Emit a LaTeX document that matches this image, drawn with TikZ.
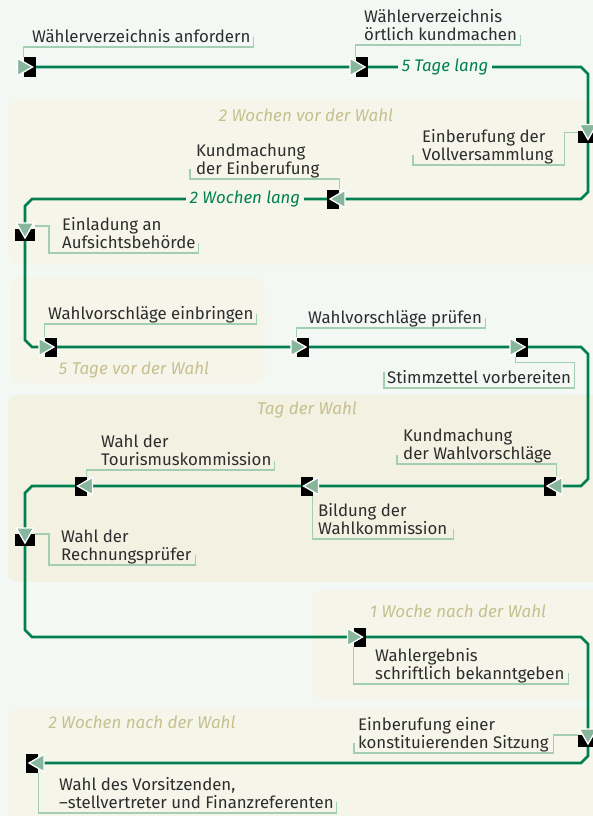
\documentclass[tikz,border=0pt]{standalone}
\usepackage{fontspec}
\setmainfont{Fira Sans}
\usetikzlibrary{shapes.geometric,backgrounds}

\definecolor{pagebg}{RGB}{244,248,245}
\definecolor{zonebg}{RGB}{246,245,234}
\definecolor{daybg}{RGB}{243,241,226}
\definecolor{flowgreen}{RGB}{0,128,82}
\definecolor{tricol}{RGB}{136,182,156}
\definecolor{brkcol}{RGB}{163,206,178}
\definecolor{khaki}{RGB}{198,192,143}
\definecolor{txtgrey}{RGB}{45,45,45}

\begin{document}
\begin{tikzpicture}[x=1pt, y=-1pt,
    every node/.style = {font=\fontsize{16.8}{18.5}\selectfont},
    blk/.style = {fill=black, inner sep=0pt, minimum width=12pt, minimum height=19pt},
    blkv/.style = {blk, minimum width=20pt, minimum height=12pt},
    tri/.style = {regular polygon, regular polygon sides=3, minimum size=20pt,
      inner sep=0pt, fill=tricol, draw=white, line width=1.3pt},
    lbl/.style = {align=left, inner xsep=3pt, inner ysep=0pt, text depth=4pt, text=txtgrey},
    brk/.style = {draw=brkcol, line width=1.1pt},
    flow/.style = {draw=flowgreen, line width=2.6pt},
    dur/.style = {font=\fontsize{16.8}{18.5}\selectfont\itshape, text=flowgreen, inner xsep=4pt},
    zone/.style = {font=\fontsize{17}{19}\selectfont\itshape, text=khaki}]
\useasboundingbox (0,0) rectangle (593,816);

% Zeitraeume
\node[zone] (z1) at (306,115) {2 Wochen vor der Wahl};
\node[zone] (z2) at (134,370) {5 Tage vor der Wahl};
\node[zone] (z3) at (307,410) {Tag der Wahl};
\node[zone] (z4) at (458,611) {1 Woche nach der Wahl};
\node[zone] (z5) at (142,722) {2 Wochen nach der Wahl};

% Ereignisse
\node[blk] (e1) at (29.5,67) {};
\node[tri, rotate=-90] (t1) at ([xshift=-7pt]e1.center) {};
\node[blk] (e2) at (362,67) {};
\node[tri, rotate=-90] (t2) at ([xshift=-7pt]e2.center) {};
\node[blkv] (e3) at (588,136.5) {};
\node[tri, rotate=180] (t3) at ([yshift=7pt]e3.center) {};
\node[blk] (e4) at (333,199) {};
\node[tri, rotate=90] (t4) at ([xshift=7pt]e4.center) {};
\node[blkv] (e5) at (25,235) {};
\node[tri, rotate=180] (t5) at ([yshift=7pt]e5.center) {};
\node[blk] (e6) at (51,347) {};
\node[tri, rotate=-90] (t6) at ([xshift=-7pt]e6.center) {};
\node[blk] (e7) at (303,347) {};
\node[tri, rotate=-90] (t7) at ([xshift=-7pt]e7.center) {};
\node[blk] (e8) at (522,347) {};
\node[tri, rotate=-90] (t8) at ([xshift=-7pt]e8.center) {};
\node[blk] (e9) at (550,486) {};
\node[tri, rotate=90] (t9) at ([xshift=7pt]e9.center) {};
\node[blk] (e10) at (306.5,486) {};
\node[tri, rotate=90] (t10) at ([xshift=7pt]e10.center) {};
\node[blk] (e11) at (80.5,486) {};
\node[tri, rotate=90] (t11) at ([xshift=7pt]e11.center) {};
\node[blkv] (e12) at (25,540) {};
\node[tri, rotate=180] (t12) at ([yshift=7pt]e12.center) {};
\node[blk] (e13) at (359.5,637) {};
\node[tri, rotate=-90] (t13) at ([xshift=-7pt]e13.center) {};
\node[blkv] (e14) at (588,741) {};
\node[tri, rotate=180] (t14) at ([yshift=7pt]e14.center) {};
\node[blk] (e15) at (32,763) {};
\node[tri, rotate=90] (t15) at ([xshift=7pt]e15.center) {};

% Beschriftungen
\node[lbl, anchor=south west] (l1) at (29,47) {Wählerverzeichnis anfordern};
\draw[brk] (e1.north west) |- (l1.south east) -- ++(0,-10);
\node[lbl, anchor=south west] (l2) at (361,45) {Wählerverzeichnis\\örtlich kundmachen};
\draw[brk] (e2.north west) |- (l2.south east) -- ++(0,-10);
\node[lbl, anchor=south west] (l3) at (419,165) {Einberufung der\\Vollversammlung};
\draw[brk] ([yshift=-2pt]e3.north west) -| ([xshift=8pt]l3.south east)
  -- ([xshift=-6pt]l3.south west) -- ++(0,-10);
\node[lbl, anchor=south west] (l4) at (193,179) {Kundmachung\\der Einberufung};
\draw[brk] (e4.north east) |- ([xshift=-3pt]l4.south west) -- ++(0,-10);
\node[lbl, anchor=south west] (l5) at (59,253) {Einladung an\\Aufsichtsbehörde};
\draw[brk] ([yshift=9pt]e5.east) -| ([xshift=-10pt]l5.south west) -- (l5.south east) -- ++(0,-10);
\node[lbl, anchor=south west] (l6) at (45,324) {Wahlvorschläge einbringen};
\draw[brk] (e6.north west) |- (l6.south east) -- ++(0,-10);
\node[lbl, anchor=south west] (l7) at (305,328) {Wahlvorschläge prüfen};
\draw[brk] (e7.north west) |- (l7.south east) -- ++(0,-10);
\node[lbl, anchor=south west] (l8) at (384,388) {Stimmzettel vorbereiten};
\draw[brk] (e8.south west) -- ++(0,6) -| (l8.south east) -- (l8.south west) -- ++(0,-16);
\node[lbl, anchor=south west] (l9) at (400,464) {Kundmachung\\der Wahlvorschläge};
\draw[brk] (e9.north east) |- ([xshift=-3pt]l9.south west) -- ++(0,-9);
\node[lbl, anchor=south west] (l10) at (315,539) {Bildung der\\Wahlkommission};
\draw[brk] (e10.south east) |- ([xshift=3pt]l10.south east) -- ++(0,-10);
\node[lbl, anchor=south west] (l11) at (98,470) {Wahl der\\Tourismuskommission};
\draw[brk] (e11.north east) |- (l11.south east) -- ++(0,-9);
\node[lbl, anchor=south west] (l12) at (58,565) {Wahl der\\Rechnungsprüfer};
\draw[brk] ([yshift=6pt]e12.east) -| ([xshift=-9pt]l12.south west)
  -- ([xshift=1pt]l12.south east) -- ++(0,-10);
\node[lbl, anchor=south west] (l13) at (372,684) {Wahlergebnis\\schriftlich bekanntgeben};
\draw[brk] (e13.south west) |- ([xshift=1pt]l13.south east) -- ++(0,-11);
\node[lbl, anchor=south west] (l14) at (355,753) {Einberufung einer\\konstituierenden Sitzung};
\draw[brk] ([yshift=6pt]e14.west) -| ([xshift=2pt]l14.south east)
  -- ([xshift=-1pt]l14.south west) -- ++(0,-10);
\node[lbl, anchor=south west] (l15) at (56,813) {Wahl des Vorsitzenden,\\–stellvertreter und Finanzreferenten};
\draw[brk] (e15.south east) |- (l15.south east) -- ++(0,-11);

% Dauer
\node[dur, fill=pagebg] (d1) at (445,67) {5 Tage lang};
\node[dur, fill=zonebg] (d2) at (245,199) {2 Wochen lang};

\begin{pgfonlayer}{background}
  \fill[pagebg] (0,0) rectangle (593,816);
  \fill[zonebg, rounded corners=10pt] (8,99) rectangle (610,265);
  \fill[zonebg, rounded corners=10pt] (10,277) rectangle (265,383);
  \fill[daybg, rounded corners=10pt] (8,395) rectangle (610,582);
  \fill[zonebg, rounded corners=10pt] (312,590) rectangle (610,699);
  \fill[zonebg, rounded corners=10pt] (8,708) rectangle (610,830);
  \draw[flow] (e1.center) -- (e2.center) -- (581,67) -- (588,74) -- (e3.center)
    -- (588,192) -- (581,199) -- (e4.center) -- (32,199) -- (25,206) -- (e5.center)
    -- (25,340) -- (32,347) -- (e6.center) -- (e7.center) -- (e8.center)
    -- (581,347) -- (588,354) -- (588,479) -- (581,486) -- (e9.center)
    -- (e10.center) -- (e11.center) -- (32,486) -- (25,493) -- (e12.center)
    -- (25,630) -- (32,637) -- (e13.center) -- (581,637) -- (588,644)
    -- (e14.center) -- (588,756) -- (581,763) -- (e15.center);
\end{pgfonlayer}
\end{tikzpicture}
\end{document}
